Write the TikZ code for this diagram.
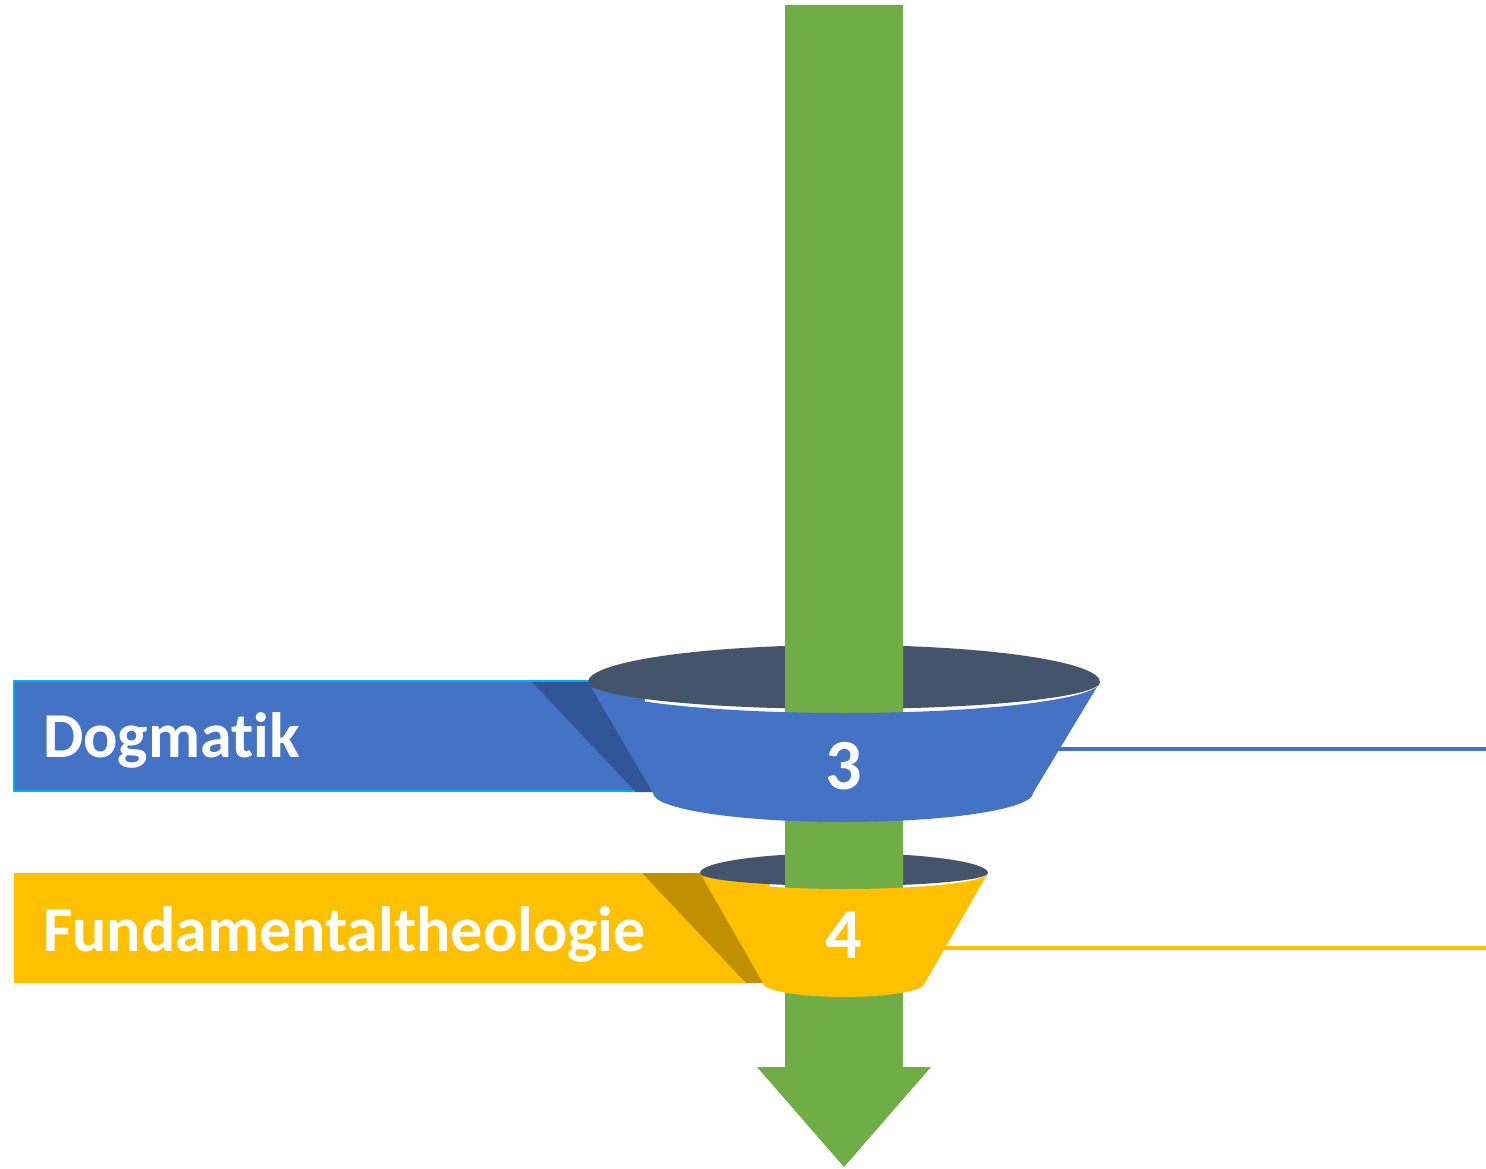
\documentclass[tikz,border=0pt]{standalone}
\usepackage{fontspec}
\setmainfont[Ligatures={NoCommon}]{Carlito}
\definecolor{ringblue}{HTML}{4472C4}
\definecolor{ringblueshade}{HTML}{2F5597}
\definecolor{ringgold}{HTML}{FFC000}
\definecolor{ringgoldshade}{HTML}{BF9000}
\definecolor{arrowgreen}{HTML}{70AD47}
\definecolor{ringinner}{HTML}{44546A}
\definecolor{edgecyan}{HTML}{00B0F0}
\tikzset{
  labeltext/.style={text=white, font=\bfseries\fontsize{64}{72}\selectfont, inner sep=0pt, anchor=base west},
  digittext/.style={text=white, font=\bfseries\fontsize{72}{80}\selectfont, inner sep=0pt, anchor=base},
}
\begin{document}
\begin{tikzpicture}[x=1pt,y=-1pt]
\useasboundingbox (0,0) rectangle (1486,1169);

% label bars
\fill[ringblue] (14,681) rectangle (645,791);
\draw[edgecyan, line width=2pt] (645,681) -- (14,681) -- (14,791) -- (645,791);
\fill[ringgold] (14,873) rectangle (770,983);

% right-hand leader lines
\coordinate (lineA) at (1486,749);
\coordinate (lineB) at (1486,948);
\draw[ringblue, line width=3.5pt] (1040,749) -- (lineA);
\draw[ringgold, line width=3.5pt] (930,948) -- (lineB);

% shadows where the bars fold into the rings
\fill[ringblueshade] (532,682) -- (590,682) -- (655,792) -- (636,792) -- cycle;
\fill[ringgoldshade] (642,873) -- (702,873) -- (764,983) -- (746,983) -- cycle;

% inner openings of the rings
\fill[ringinner] (588,682) arc[start angle=180, end angle=360, x radius=256, y radius=37]
  arc[start angle=0, end angle=180, x radius=256, y radius=27] -- cycle;
\fill[ringinner] (700,873) arc[start angle=180, end angle=360, x radius=144, y radius=20]
  arc[start angle=0, end angle=180, x radius=144, y radius=13] -- cycle;

% downward arrow
\fill[arrowgreen] (785,5) -- (903,5) -- (903,1067) -- (931,1067) -- (844,1167)
  -- (757,1067) -- (785,1067) -- cycle;

% ring bands
\fill[ringblue] (588,682) -- (653,793)
  arc[start angle=180, end angle=0, x radius=190, y radius=29]
  -- (1100,682)
  arc[start angle=0, end angle=180, x radius=256, y radius=31] -- cycle;
\fill[ringgold] (700,873) -- (763,983)
  arc[start angle=180, end angle=0, x radius=81, y radius=14]
  -- (988,873)
  arc[start angle=0, end angle=180, x radius=144, y radius=16] -- cycle;

% texts
\node[labeltext] (dogm) at (43,757) {Dogmatik};
\node[labeltext] (fund) at (43,951) {Fundamentaltheologie};
\node[digittext] (three) at (844,789) {3};
\node[digittext] (four) at (844,958) {4};
\end{tikzpicture}
\end{document}
